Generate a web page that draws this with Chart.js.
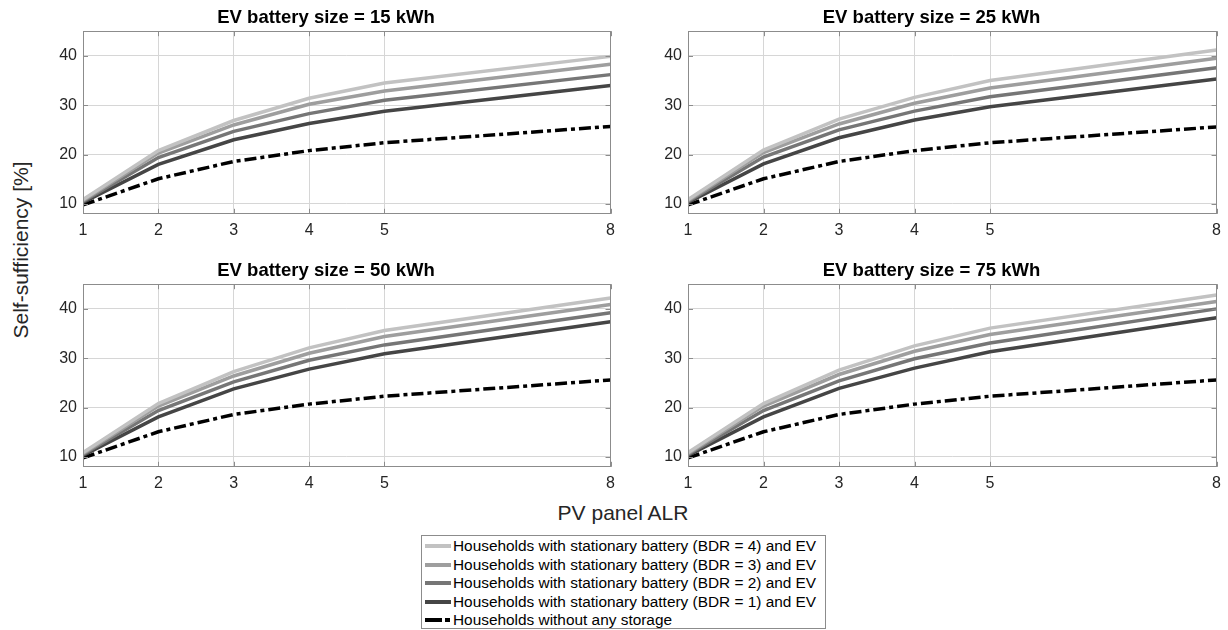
<!DOCTYPE html>
<html>
<head>
<meta charset="utf-8">
<script src="https://cdn.jsdelivr.net/npm/chart.js@4.4.0/dist/chart.umd.min.js"></script>
<style>
    body { margin: 0; background: #fff; width: 1228px; height: 630px; position: relative; overflow: hidden; font-family: "Liberation Sans", Arial, sans-serif; }
    canvas { position: absolute; }
    #ylab { position: absolute; left: 21px; top: 250px; transform: translate(-50%, -50%) rotate(-90deg); font-size: 21px; white-space: nowrap; color: #262626; }
    #xlab { position: absolute; left: 623px; top: 513px; transform: translate(-50%, -50%); font-size: 21px; white-space: nowrap; color: #262626; }
    #legend { position: absolute; left: 421px; top: 535px; width: 405px; height: 94px; border: 1px solid #8c8c8c; box-sizing: border-box; background: #fff; }
    .row { position: absolute; left: 0; width: 100%; height: 18px; font-size: 15.4px; line-height: 18px; white-space: nowrap; color: #000; }
    .sw { position: absolute; top: 7px; height: 4px; }
    .txt { position: absolute; left: 31px; top: 0; }
</style>
</head>
<body>
<canvas id="c15" style="left:40px; top:0px;"></canvas>
<canvas id="c25" style="left:645px; top:0px;"></canvas>
<canvas id="c50" style="left:40px; top:253px;"></canvas>
<canvas id="c75" style="left:645px; top:253px;"></canvas>
<div id="ylab">Self-sufficiency [%]</div>
<div id="xlab">PV panel ALR</div>
<div id="legend"></div>
<script>
// PV panel ALR values and tick labels
const alrValues = [1, 2, 3, 4, 5, 8];
const xTickValues = [1, 2, 3, 4, 5, 8];
const yTickValues = [10, 20, 30, 40];

// EV battery = 15 kWh
const bdr4_15 = [10.9, 20.8, 26.9, 31.4, 34.5, 39.9];
const bdr3_15 = [10.7, 20.3, 26.0, 30.2, 32.9, 38.3];
const bdr2_15 = [10.5, 19.4, 24.7, 28.3, 31.0, 36.2];
const bdr1_15 = [10.3, 18.0, 23.0, 26.3, 28.8, 34.0];
const none_15 = [9.8, 15.1, 18.6, 20.8, 22.4, 25.7];

// EV battery = 25 kWh
const bdr4_25 = [10.9, 20.9, 27.2, 31.6, 35.0, 41.2];
const bdr3_25 = [10.7, 20.4, 26.2, 30.4, 33.5, 39.5];
const bdr2_25 = [10.5, 19.5, 25.0, 28.8, 31.7, 37.6];
const bdr1_25 = [10.3, 18.1, 23.4, 27.0, 29.7, 35.3];
const none_25 = [9.8, 15.1, 18.6, 20.8, 22.4, 25.6];

// EV battery = 50 kWh
const bdr4_50 = [10.9, 20.8, 27.3, 32.1, 35.6, 42.2];
const bdr3_50 = [10.7, 20.3, 26.4, 31.0, 34.4, 40.9];
const bdr2_50 = [10.5, 19.4, 25.2, 29.6, 32.7, 39.2];
const bdr1_50 = [10.3, 18.1, 23.8, 27.8, 30.9, 37.4];
const none_50 = [9.8, 15.1, 18.6, 20.7, 22.3, 25.6];

// EV battery = 75 kWh
const bdr4_75 = [10.9, 20.8, 27.6, 32.5, 36.1, 42.8];
const bdr3_75 = [10.7, 20.3, 26.7, 31.4, 34.8, 41.5];
const bdr2_75 = [10.5, 19.4, 25.4, 29.9, 33.1, 40.0];
const bdr1_75 = [10.3, 18.1, 23.9, 28.0, 31.3, 38.2];
const none_75 = [9.8, 15.1, 18.6, 20.7, 22.3, 25.6];

const seriesLabels = [
    'Households with stationary battery (BDR = 4) and EV',
    'Households with stationary battery (BDR = 3) and EV',
    'Households with stationary battery (BDR = 2) and EV',
    'Households with stationary battery (BDR = 1) and EV',
    'Households without any storage'
];
const seriesColors = ['#c2c2c2', '#9e9e9e', '#767676', '#454545', '#000000'];
const dashPattern = [12, 4, 4, 4];

const FONT = '"Liberation Sans", Arial, sans-serif';

// khung hộp kiểu MATLAB + vạch tick phía trong
const boxPlugin = {
    id: 'box',
    afterDraw(chart) {
        const { ctx, chartArea: a, scales } = chart;
        ctx.save();
        ctx.strokeStyle = '#8c8c8c';
        ctx.lineWidth = 1;
        ctx.strokeRect(Math.round(a.left) + 0.5, Math.round(a.top) + 0.5, Math.round(a.right - a.left) - 1, Math.round(a.bottom - a.top) - 1);
        ctx.beginPath();
        xTickValues.forEach(v => {
            const px = Math.round(scales.x.getPixelForValue(v)) + 0.5;
            ctx.moveTo(px, a.bottom); ctx.lineTo(px, a.bottom - 5);
            ctx.moveTo(px, a.top); ctx.lineTo(px, a.top + 5);
        });
        yTickValues.forEach(v => {
            const py = Math.round(scales.y.getPixelForValue(v)) + 0.5;
            ctx.moveTo(a.left, py); ctx.lineTo(a.left + 5, py);
            ctx.moveTo(a.right, py); ctx.lineTo(a.right - 5, py);
        });
        ctx.stroke();
        ctx.restore();
    }
};

function toPoints(vals) {
    return alrValues.map((x, i) => ({ x: x, y: vals[i] }));
}

function makePanel(id, title, seriesList) {
    const canvas = document.getElementById(id);
    canvas.width = id === 'c15' || id === 'c50' ? 582 : 583;
    canvas.height = 247;

    const datasets = seriesList.map((vals, i) => ({
        label: seriesLabels[i],
        data: toPoints(vals),
        borderColor: seriesColors[i],
        backgroundColor: seriesColors[i],
        borderWidth: 3.5,
        borderDash: i === 4 ? dashPattern : [],
        borderCapStyle: 'butt',
        pointRadius: 0,
        tension: 0,
        fill: false
    }));

    return new Chart(canvas.getContext('2d'), {
        type: 'line',
        data: { datasets: datasets },
        options: {
            responsive: false,
            animation: false,
            devicePixelRatio: 1,
            layout: { padding: { left: 0, right: 10, top: 0, bottom: 0 } },
            plugins: {
                legend: { display: false },
                tooltip: { enabled: false },
                title: {
                    display: true,
                    text: title,
                    color: '#000',
                    font: { family: FONT, size: 18.5, weight: 'bold' },
                    padding: { top: 7, bottom: 2 }
                }
            },
            scales: {
                x: {
                    type: 'linear',
                    min: 1,
                    max: 8,
                    afterBuildTicks: s => { s.ticks = xTickValues.map(v => ({ value: v })); },
                    ticks: { color: '#262626', font: { family: FONT, size: 16 }, padding: 7, maxRotation: 0 },
                    grid: { color: '#d6d6d6', drawTicks: false },
                    border: { display: false }
                },
                y: {
                    min: 8,
                    max: 45,
                    afterBuildTicks: s => { s.ticks = yTickValues.map(v => ({ value: v })); },
                    afterFit: s => { s.width = 43; },
                    ticks: { color: '#262626', font: { family: FONT, size: 16 }, padding: 6 },
                    grid: { color: '#d6d6d6', drawTicks: false },
                    border: { display: false }
                }
            }
        },
        plugins: [boxPlugin]
    });
}

makePanel('c15', 'EV battery size = 15 kWh', [bdr4_15, bdr3_15, bdr2_15, bdr1_15, none_15]);
makePanel('c25', 'EV battery size = 25 kWh', [bdr4_25, bdr3_25, bdr2_25, bdr1_25, none_25]);
makePanel('c50', 'EV battery size = 50 kWh', [bdr4_50, bdr3_50, bdr2_50, bdr1_50, none_50]);
makePanel('c75', 'EV battery size = 75 kWh', [bdr4_75, bdr3_75, bdr2_75, bdr1_75, none_75]);

// Legend (HTML)
const legendDiv = document.getElementById('legend');
const rowCenters = [10, 29, 47, 66, 84];
seriesLabels.forEach((label, i) => {
    let swatch;
    if (i === 4) {
        swatch = `<span class="sw" style="left:3px;width:17px;background:#000"></span><span class="sw" style="left:23px;width:5px;background:#000"></span>`;
    } else {
        swatch = `<span class="sw" style="left:3px;width:26px;background:${seriesColors[i]}"></span>`;
    }
    legendDiv.insertAdjacentHTML('beforeend', `<div class="row" style="top:${rowCenters[i] - 9}px">${swatch}<span class="txt">${label}</span></div>`);
});
</script>
</body>
</html>
